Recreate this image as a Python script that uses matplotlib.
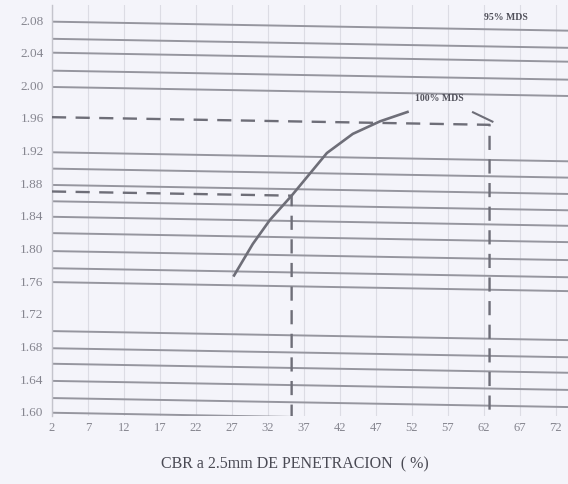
import matplotlib
matplotlib.use("Agg")
import matplotlib.pyplot as plt
import matplotlib.transforms as mtransforms

# Lineas de densidad de la hoja (valor en el borde izquierdo)
GRID_LEVELS = [2.078, 2.057, 2.040, 2.018, 1.998, 1.918, 1.898, 1.878,
               1.858, 1.839, 1.819, 1.797, 1.776, 1.759, 1.699, 1.678,
               1.659, 1.638, 1.617, 1.599]

# Curva CBR vs densidad seca
CBR = [27.3, 29.9, 32.3, 35.3, 40.2, 43.8, 47.6, 51.4]
DENS = [1.771, 1.810, 1.840, 1.870, 1.923, 1.947, 1.963, 1.975]

# Tramo corto a la derecha de "100% MDS"
ARC_X = [60.5, 63.2]
ARC_Y = [1.976, 1.965]

# Lecturas: 100% MDS y 95% MDS
MDS100 = (62.8, 1.961)
MDS95 = (35.3, 1.870)

X_TICKS = [2, 7, 12, 17, 22, 27, 32, 37, 42, 47, 52, 57, 62, 67, 72]
Y_TICKS = [2.08, 2.04, 2.00, 1.96, 1.92, 1.88, 1.84, 1.80, 1.76, 1.72,
           1.68, 1.64, 1.60]

BG = "#f4f4fa"
LINE = "#96969f"
INK = "#6e6e78"

fig = plt.figure(figsize=(5.68, 4.84), dpi=100, facecolor=BG)
ax = fig.add_axes([0.0915, 0.1405, 0.9085, 0.8485], facecolor=BG)
ax.set_xlim(2, 73.7)
ax.set_ylim(1.595, 2.098)

# la hoja esta ligeramente inclinada: las lineas bajan hacia la derecha
tilt = ax.transData + mtransforms.Affine2D().skew_deg(0, -1.0).translate(0, 0.9)

for x in X_TICKS:
    ax.axvline(x, color="#dcdce4", lw=0.8, zorder=1)

for lvl in GRID_LEVELS:
    ax.plot([2, 73.7], [lvl, lvl], color=LINE, lw=1.4, transform=tilt,
            zorder=2, solid_capstyle="butt")

ax.plot(CBR, DENS, color=INK, lw=1.9, transform=tilt, zorder=4)
ax.plot(ARC_X, ARC_Y, color=INK, lw=1.5, transform=tilt, zorder=4)

for xv, yv in (MDS100, MDS95):
    ax.plot([2, xv, xv], [yv, yv, 1.598], color=INK, lw=1.7,
            dashes=(6, 4), transform=tilt, zorder=3)

ax.text(65.0, 2.083, "95% MDS", fontsize=7, fontweight="bold",
        color="#50505a", family="Liberation Serif", ha="center", va="center")
ax.text(55.8, 1.984, "100% MDS", fontsize=7, fontweight="bold",
        color="#50505a", family="Liberation Serif", ha="center", va="center")

ax.set_xticks(X_TICKS)
ax.set_yticks(Y_TICKS)
ax.set_xticklabels([str(v) for v in X_TICKS])
ax.set_yticklabels([f"{v:.2f}" for v in Y_TICKS])
ax.tick_params(axis="both", length=0, labelcolor="#85858f")
ax.tick_params(axis="x", pad=4, labelsize=9)
ax.tick_params(axis="y", pad=6, labelsize=9.5)
for lab in ax.get_xticklabels() + ax.get_yticklabels():
    lab.set_family("Liberation Serif")

for side in ("top", "right", "bottom"):
    ax.spines[side].set_visible(False)
ax.spines["left"].set_color("#c4c4cc")
ax.spines["left"].set_linewidth(1.0)

fig.text(0.52, 0.040, "CBR a 2.5mm DE PENETRACION  ( %)", fontsize=11.5,
         color="#4a4a54", family="Liberation Serif", ha="center", va="center")

fig.savefig("out.png", dpi=100, facecolor=BG)
